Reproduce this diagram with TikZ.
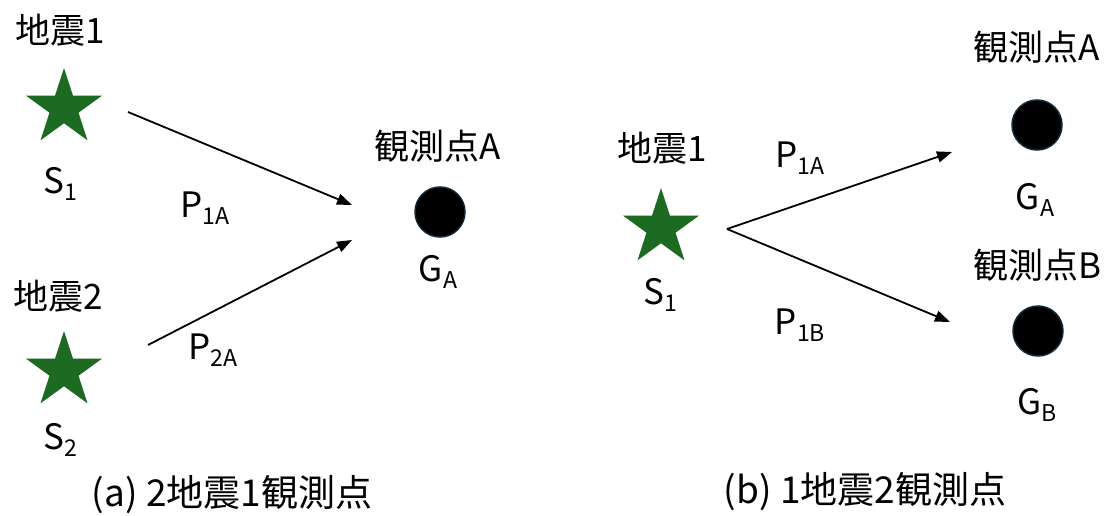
\documentclass[tikz,border=0pt]{standalone}
\usepackage{fontspec}
\setmainfont{Noto Sans CJK JP}
\usetikzlibrary{shapes.geometric,arrows.meta}
\definecolor{quakegreen}{HTML}{1D6A22}
\definecolor{stationedge}{HTML}{102A3A}
\newcommand\sbs[1]{\raisebox{-0.2em}{\scalebox{0.66}{#1}}}
\begin{document}
\begin{tikzpicture}[x=1pt,y=-1pt,
  quake/.style={star,star points=5,star point ratio=2.618,minimum size=80pt,inner sep=0pt,fill=quakegreen,draw=none},
  station/.style={circle,minimum size=50pt,inner sep=0pt,fill=black,draw=stationedge,line width=1.5pt},
  lbl/.style={font=\fontsize{35}{40}\selectfont,inner sep=0pt},
  figcaption/.style={font=\fontsize{37}{42}\selectfont,inner sep=0pt},
  ray/.style={line width=1.8pt,-{Triangle[length=15pt,width=11pt]}}]
\useasboundingbox (0,0) rectangle (1117,516);

% (a) two earthquakes, one station
\node[lbl] (qa1t) at (60,30) {地震1};
\node[quake] (qa1) at (64,108) {};
\node[lbl] (qa1s) at (60,184) {S\sbs{1}};
\node[lbl] (qa2t) at (58,296) {地震2};
\node[quake] (qa2) at (64,371) {};
\node[lbl] (qa2s) at (60,440) {S\sbs{2}};
\node[station] (ga) at (440,212) {};
\node[lbl] (gat) at (438,146) {観測点A};
\node[lbl] (gal) at (438,272) {G\sbs{A}};
\node[lbl] (p1a) at (205,208) {P\sbs{1A}};
\node[lbl] (p2a) at (213,350) {P\sbs{2A}};
\node[figcaption] (capa) at (232,495) {(a) 2地震1観測点};
\coordinate (r1s) at (128,112);
\coordinate (r1e) at (352,205);
\coordinate (r2s) at (148,345);
\coordinate (r2e) at (352,240);
\draw[ray] (r1s) -- (r1e);
\draw[ray] (r2s) -- (r2e);

% (b) one earthquake, two stations
\node[lbl] (qbt) at (662,148) {地震1};
\node[quake] (qb) at (661,228) {};
\node[lbl] (qbs) at (660,295) {S\sbs{1}};
\node[lbl] (gbat) at (1037,47) {観測点A};
\node[station] (gba) at (1037,125) {};
\node[lbl] (gbal) at (1035,200) {G\sbs{A}};
\node[lbl] (gbbt) at (1037,265) {観測点B};
\node[station] (gbb) at (1038,331) {};
\node[lbl] (gbbl) at (1037,405) {G\sbs{B}};
\node[lbl] (p1ab) at (800,158) {P\sbs{1A}};
\node[lbl] (p1bb) at (800,325) {P\sbs{1B}};
\node[figcaption] (capb) at (865,492) {(b) 1地震2観測点};
\coordinate (r3s) at (727,229);
\coordinate (r3e) at (952,152);
\coordinate (r4e) at (950,322);
\draw[ray] (r3s) -- (r3e);
\draw[ray] (r3s) -- (r4e);
\end{tikzpicture}
\end{document}
